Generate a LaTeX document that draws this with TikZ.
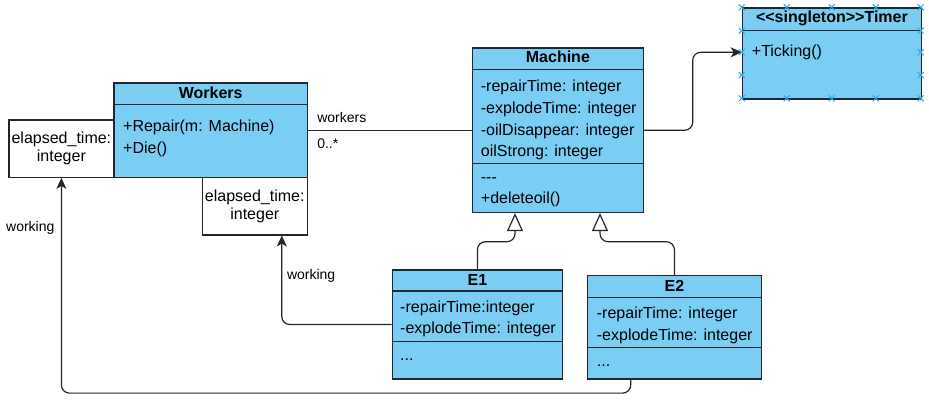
\documentclass[tikz,border=0pt]{standalone}
\usepackage{fontspec}
\setmainfont{Liberation Sans}[Ligatures=TeXOff]
\usetikzlibrary{arrows.meta,positioning,calc}
\definecolor{classblue}{RGB}{122,205,243}
\definecolor{edgegray}{RGB}{34,38,44}
\definecolor{handleblue}{RGB}{41,170,230}

\begin{document}
\begin{tikzpicture}[x=1pt,y=-1pt,
    classbox/.style={draw=edgegray, fill=classblue, line width=1.4pt, anchor=north west, inner sep=0pt},
    notebox/.style={draw=edgegray, fill=white, line width=1.2pt, anchor=north west, inner sep=0pt, align=center, font=\fontsize{16}{19}\selectfont},
    classtitle/.style={font=\fontsize{16}{19}\selectfont\bfseries, inner sep=0pt},
    member/.style={anchor=west, inner sep=0pt, font=\fontsize{16}{19}\selectfont, text height=15.5pt, text depth=3pt},
    lbl/.style={inner sep=0pt, font=\fontsize{14}{17}\selectfont, text height=11pt, text depth=3pt},
    conn/.style={draw=edgegray, line width=1.2pt, rounded corners=8pt},
    assoc/.style={conn, -{Stealth[length=11pt, width=10pt, inset=3pt]}},
    inherit/.style={conn, -{Triangle[open, length=18pt, width=16pt, fill=white]}}
]
    \useasboundingbox (0,0) rectangle (929,407);

    % Workers class
    \node[classbox, minimum width=193.4pt, minimum height=94.4pt] (workers) at (113.3,82.3) {};
    \draw[edgegray, line width=1.4pt] (workers.north west) ++(0,22) -- ++(193.4,0);
    \node[classtitle] (workerstitle) at ($(workers.north)+(0,10)$) {Workers};
    \node[member] (repairop) at (123,125) {+Repair(m: Machine)};
    \node[member] (dieop) at (123,147.5) {+Die()};

    % elapsed time notes
    \node[notebox, minimum width=105pt, minimum height=57.4pt] (elapsedA) at (8.3,119.3) {elapsed\_time:\\[-1pt]integer};
    \node[notebox, minimum width=105pt, minimum height=57.6pt] (elapsedB) at (201.7,176.7) {elapsed\_time:\\[-1pt]integer};

    % Machine class
    \node[classbox, minimum width=171pt, minimum height=164.4pt] (machine) at (471.7,47.3) {};
    \draw[edgegray, line width=1.4pt] (machine.north west) ++(0,22) -- ++(171,0);
    \draw[edgegray, line width=1.4pt] (machine.north west) ++(0,116) -- ++(171,0);
    \node[classtitle] (machinetitle) at ($(machine.north)+(0,9.6)$) {Machine};
    \node[member] (repairattr) at (480.7,85.7) {-repairTime: integer};
    \node[member] (explodeattr) at (480.7,107.7) {-explodeTime: integer};
    \node[member] (oildisattr) at (480.7,129.3) {-oilDisappear: integer};
    \node[member] (oilstrattr) at (480.7,150) {oilStrong: integer};
    \node[member] (dashes) at (480.7,176.7) {---};
    \node[member] (deleteop) at (480.7,197.7) {+deleteoil()};

    % Timer class (selected)
    \node[classbox, minimum width=179pt, minimum height=91pt] (timer) at (741.7,7.3) {};
    \draw[edgegray, line width=1.4pt] (timer.north west) ++(0,23.4) -- ++(179,0);
    \node[classtitle] (timertitle) at ($(timer.north)+(0,11)$) {<<singleton>>Timer};
    \node[member] (tickop) at (751.7,50) {+Ticking()};
    \coordinate (tickin) at ($(timer.north west)+(0,45)$);

    % E1 class
    \node[classbox, minimum width=170pt, minimum height=109pt] (e1) at (391.7,269.3) {};
    \draw[edgegray, line width=1.4pt] (e1.north west) ++(0,21.7) -- ++(170,0);
    \draw[edgegray, line width=1.4pt] (e1.north west) ++(0,72.4) -- ++(170,0);
    \node[classtitle] (e1title) at ($(e1.north)+(0,10.7)$) {E1};
    \node[member] (e1repair) at (400,306.7) {-repairTime:integer};
    \node[member] (e1explode) at (400,327.3) {-explodeTime: integer};
    \node[member] (e1dots) at (400,354) {...};

    % E2 class
    \node[classbox, minimum width=174pt, minimum height=103.3pt] (e2) at (586.7,275) {};
    \draw[edgegray, line width=1.4pt] (e2.north west) ++(0,22.7) -- ++(174,0);
    \draw[edgegray, line width=1.4pt] (e2.north west) ++(0,72.3) -- ++(174,0);
    \node[classtitle] (e2title) at ($(e2.north)+(0,11)$) {E2};
    \node[member] (e2repair) at (596.7,312) {-repairTime: integer};
    \node[member] (e2explode) at (596.7,334) {-explodeTime: integer};
    \node[member] (e2dots) at (596.7,360.7) {...};

    % association Workers -- Machine
    \draw[conn] (workers.east) -- (machine.west);
    \node[lbl, anchor=west] (workerslbl) at ($(workers.east)+(9,-11.5)$) {workers};
    \node[lbl, anchor=west] (multlbl) at ($(workers.east)+(9,14.5)$) {0..*};

    % Machine -> Timer
    \draw[assoc] (machine.east) -| ($(tickin)+(-49,0)$) -- (tickin);

    % generalisation
    \draw[inherit] (e1.north) -- ++(0,-27.6) -| ($(machine.south west)+(43.3,0)$);
    \draw[inherit] (e2.north) -- ++(0,-33.3) -| ($(machine.south west)+(128.3,0)$);

    % working links
    \draw[assoc] (e1.west) -| ($(elapsedB.south)+(27,0)$);
    \node[lbl, anchor=west] (workinglblB) at ($(elapsedB.south)+(32,39.5)$) {working};
    \draw[assoc] ($(e2.south)+(-43.7,0)$) -- ++(0,13.4) -| (elapsedA.south);
    \node[lbl, anchor=east] (workinglblA) at ($(elapsedA.south)+(-6.8,49.3)$) {working};

    % selection handles on Timer
    \foreach \hx in {741.7,786.7,831.7,875.7,920.7}
        \foreach \hy in {7.3,98.3}
            \draw[handleblue, line width=1pt] (\hx-3,\hy-3) -- (\hx+3,\hy+3) (\hx-3,\hy+3) -- (\hx+3,\hy-3);
    \foreach \hx in {741.7,920.7}
        \foreach \hy in {30.7,52.3,75}
            \draw[handleblue, line width=1pt] (\hx-3,\hy-3) -- (\hx+3,\hy+3) (\hx-3,\hy+3) -- (\hx+3,\hy-3);
\end{tikzpicture}
\end{document}
